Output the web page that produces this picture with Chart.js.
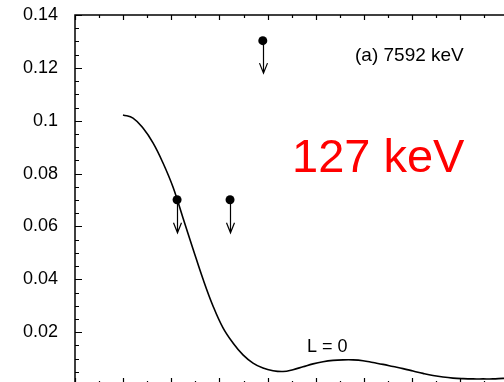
<!DOCTYPE html>
<html><head><meta charset="utf-8">
<script src="https://cdn.jsdelivr.net/npm/chart.js@4/dist/chart.umd.min.js"></script>
<style>html,body{margin:0;padding:0;overflow:hidden;background:#fff;width:504px;height:382px}canvas{display:block}</style>
</head><body>
<canvas id="c" width="530" height="400"></canvas>
<script>
// Curve (L = 0 calculation)
const curveX = [9.97, 12.05, 14.12, 16.20, 18.28, 20.35, 22.43, 24.51, 26.58, 28.66, 30.74, 32.81, 34.89, 36.97, 39.04, 41.12, 43.20, 45.27, 47.35, 49.43, 51.51, 53.58, 55.66, 57.74, 59.81, 61.89, 63.97, 66.04, 68.12, 70.20, 72.27, 74.35, 76.43, 78.50, 80.58, 82.66, 84.74, 86.81, 88.89, 90.97];
const curveY = [0.1022, 0.1010, 0.0972, 0.0916, 0.0840, 0.0749, 0.0632, 0.0515, 0.0401, 0.0299, 0.0216, 0.0159, 0.0114, 0.0083, 0.0064, 0.0054, 0.0051, 0.0058, 0.0069, 0.0080, 0.0088, 0.0093, 0.0095, 0.0095, 0.0092, 0.0085, 0.0078, 0.0070, 0.0062, 0.0053, 0.0044, 0.0036, 0.0030, 0.0026, 0.0024, 0.0023, 0.0023, 0.0023, 0.0025, 0.0026];
// Upper-limit data points
const limitX = [21.2, 32.2, 39.0];
const limitY = [0.0701, 0.0701, 0.1303];
const arrowTipY = [0.0576, 0.0576, 0.1180];
// Axis ticks
const yTickLabels = ['0.02', '0.04', '0.06', '0.08', '0.1', '0.12', '0.14'];
const yMinorStep = 0.005;
const xMinorStep = 5;
// Texts
const panelLabel = '(a) 7592 keV';
const energyLabel = '127 keV';
const curveLabel = 'L = 0';

const FONT = '"Liberation Sans", Arial, Helvetica, sans-serif';

const curveData = curveX.map((x, i) => ({x, y: curveY[i]}));
const limitData = limitX.map((x, i) => ({x, y: limitY[i]}));

const framePlugin = {
  id: 'frame',
  beforeDatasetsDraw(chart) {
    const ctx = chart.ctx, xs = chart.scales.x, ys = chart.scales.y;
    ctx.save();
    ctx.strokeStyle = '#000';
    ctx.lineWidth = 1.2;
    for (let i = 0; i < limitX.length; i++) {
      const px = Math.round(xs.getPixelForValue(limitX[i])) + 0.5;
      const y0 = ys.getPixelForValue(limitY[i]);
      const y1 = ys.getPixelForValue(arrowTipY[i]);
      ctx.beginPath();
      ctx.moveTo(px, y0);
      ctx.lineTo(px, y1);
      ctx.moveTo(px - 4, y1 - 10);
      ctx.lineTo(px, y1);
      ctx.lineTo(px + 4, y1 - 10);
      ctx.stroke();
    }
    ctx.restore();
  },
  afterDraw(chart) {
    const ctx = chart.ctx, ca = chart.chartArea, xs = chart.scales.x, ys = chart.scales.y;
    ctx.save();
    ctx.strokeStyle = '#000';
    ctx.lineWidth = 1.5;
    ctx.beginPath();
    ctx.moveTo(ca.left, ca.bottom);
    ctx.lineTo(ca.left, ca.top);
    ctx.lineTo(ca.right, ca.top);
    ctx.moveTo(ca.left, ca.bottom);
    ctx.lineTo(ca.right, ca.bottom);
    ctx.stroke();
    ctx.lineWidth = 1.2;
    ctx.beginPath();
    const ny = Math.round((ys.max - ys.min) / yMinorStep);
    for (let i = 0; i <= ny; i++) {
      const py = Math.round(ys.getPixelForValue(ys.min + i * yMinorStep)) + 0.5;
      const len = (i % 4 === 0) ? 7 : 4;
      ctx.moveTo(ca.left, py);
      ctx.lineTo(ca.left + len, py);
    }
    const nx = Math.round((xs.max - xs.min) / xMinorStep);
    for (let i = 0; i <= nx; i++) {
      const px = Math.round(xs.getPixelForValue(xs.min + i * xMinorStep)) + 0.5;
      const lenTop = (i % 2 === 0) ? 5 : 3;
      const lenBot = (i % 2 === 0) ? 7 : 4;
      ctx.moveTo(px, ca.top);
      ctx.lineTo(px, ca.top + lenTop);
      ctx.moveTo(px, ca.bottom);
      ctx.lineTo(px, ca.bottom - lenBot);
    }
    ctx.stroke();

    ctx.fillStyle = '#000';
    ctx.textBaseline = 'alphabetic';
    ctx.textAlign = 'left';
    ctx.font = '19px ' + FONT;
    ctx.fillText(panelLabel, 355, 61);
    ctx.font = '18px ' + FONT;
    ctx.fillText(curveLabel, 307, 352);
    ctx.fillStyle = '#ff0000';
    ctx.font = '47px ' + FONT;
    ctx.fillText(energyLabel, 292, 172);
    ctx.restore();
  }
};

new Chart(document.getElementById('c'), {
  type: 'scatter',
  data: {
    datasets: [
      {
        data: curveData,
        showLine: true,
        borderColor: '#000',
        borderWidth: 1.6,
        pointRadius: 0,
        tension: 0.4,
        fill: false,
        order: 2
      },
      {
        data: limitData,
        showLine: false,
        pointRadius: 4.5,
        pointBackgroundColor: '#000',
        pointBorderColor: '#000',
        pointBorderWidth: 0,
        order: 1
      }
    ]
  },
  options: {
    responsive: false,
    animation: false,
    devicePixelRatio: 1,
    layout: {padding: {top: 15, right: 12, bottom: 15, left: 0}},
    plugins: {legend: {display: false}, tooltip: {enabled: false}},
    scales: {
      x: {type: 'linear', min: 0, max: 92, display: false},
      y: {
        type: 'linear', min: 0, max: 0.14,
        grid: {display: false, drawTicks: false},
        border: {display: false},
        ticks: {
          stepSize: 0.02,
          padding: 17,
          color: '#000',
          font: {size: 18, family: FONT},
          callback: (v) => {
            const m = yTickLabels.find(l => Math.abs(Number(l) - v) < 1e-9);
            return m || '';
          }
        },
        afterFit(s) { s.width = 75; s.paddingTop = 0; s.paddingBottom = 0; }
      }
    }
  },
  plugins: [framePlugin]
});
</script>
</body></html>
